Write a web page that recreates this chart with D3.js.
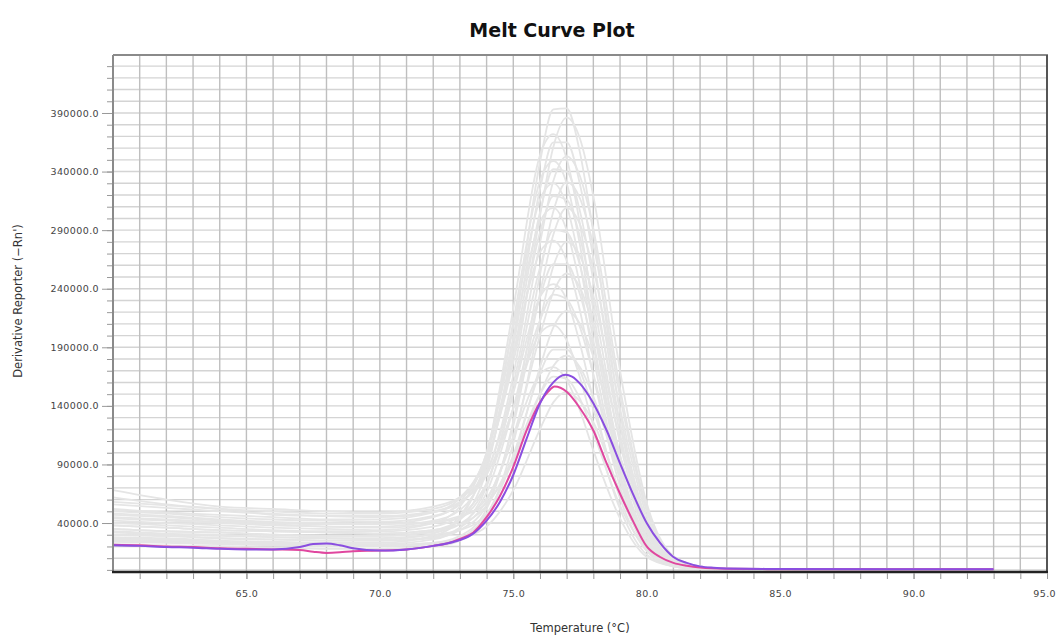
<!DOCTYPE html>
<html>
<head>
<meta charset="utf-8">
<script src="https://cdn.jsdelivr.net/npm/d3@7"></script>
<style>
  body { margin: 0; background: #fff; }
  svg { display: block; }
  .axis text { font-family: "DejaVu Sans", Verdana, sans-serif; font-size: 9.5px; fill: #444; letter-spacing: 0.4px; }
  .axis path { display: none; }
</style>
</head>
<body>
<svg id="chart" width="1057" height="637"></svg>
<script>
// x ticks / y ticks
var xLabelTicks = [65, 70, 75, 80, 85, 90, 95];
var yLabelTicks = [40000, 90000, 140000, 190000, 240000, 290000, 340000, 390000];

// temperature grid used by the grey (other wells) curves
var grayTemps = [60, 62, 64, 66, 68, 70, 72, 73, 74, 75, 76, 76.5, 77, 77.5, 78, 79, 80, 81, 82, 83, 86, 93];

// grey curves, derivative values in thousands, one row per well
var grayCurves = [
  [35,33,32,30,29,29,33,43,85,197,348,393,394,356,288,134,40,9,1.5,0.8,0.5,0.5],
  [62,56,52,47,46,45,49,58,83,166,302,361,386,368,319,170,57,12,3,1,0.6,0.5],
  [28,27,25,24,23,23,29,44,97,223,354,372,351,295,221,93,23,5,1,0.6,0.4,0.4],
  [45,43,41,39,37,37,42,51,89,190,325,365,365,329,266,124,38,8,1.5,0.8,0.5,0.4],
  [68,60,54,52,50,49,54,62,84,158,279,332,353,336,291,155,53,11,3,1,0.6,0.5],
  [32,30,29,28,27,26,31,46,95,212,332,349,330,277,208,88,22,4,1,0.6,0.4,0.3],
  [50,48,45,43,42,41,46,56,91,183,305,342,340,306,247,116,35,7,2,0.8,0.5,0.4],
  [25,24,23,22,21,21,23,29,52,127,252,306,331,317,277,148,50,11,2,0.7,0.4,0.4],
  [42,40,38,36,35,34,40,54,100,207,316,330,311,261,196,82,21,4,0.8,0.6,0.4,0.4],
  [58,55,52,50,48,48,52,62,94,177,288,319,316,284,229,108,32,7,2,0.8,0.5,0.4],
  [30,29,27,26,25,25,27,34,55,123,236,286,309,295,257,138,46,10,1.5,0.7,0.4,0.3],
  [48,46,43,41,40,39,45,58,100,198,297,309,290,243,182,77,20,4,0.8,0.6,0.4,0.4],
  [38,36,34,33,32,31,34,43,73,152,258,290,288,260,210,98,29,6,1.3,0.7,0.4,0.4],
  [22,21,20,19,18,18,20,25,44,108,212,259,280,268,234,125,42,8,1.2,0.6,0.4,0.3],
  [52,49,47,45,43,43,49,61,98,184,271,281,264,221,166,71,18,4,1.2,0.6,0.4,0.4],
  [35,33,32,30,29,29,32,39,66,138,233,261,261,235,190,88,27,6,1.2,0.6,0.4,0.3],
  [44,42,40,38,37,36,40,45,61,114,200,237,253,241,208,111,38,8,1.3,0.6,0.4,0.4],
  [27,26,24,23,22,22,26,36,71,151,233,244,231,193,145,61,16,3,0.8,0.5,0.4,0.3],
  [56,53,50,48,46,46,50,58,81,138,213,235,231,207,167,78,24,5,1.5,0.7,0.5,0.4],
  [33,31,30,28,27,27,30,34,48,96,173,207,221,210,182,97,33,7,1,0.6,0.4,0.3],
  [40,38,36,34,33,33,37,46,74,138,202,209,196,164,123,52,13,3,0.8,0.5,0.4,0.3],
  [24,23,22,21,20,20,22,27,47,98,168,188,188,170,137,65,19,4,1,0.5,0.3,0.3],
  [47,45,42,40,39,39,41,46,57,93,150,174,183,173,148,79,27,6,1.2,0.6,0.4,0.4],
  [30,29,27,26,25,25,28,36,59,113,167,173,162,136,102,44,11,3,0.7,0.5,0.4,0.3],
  [38,36,34,33,32,31,34,39,55,96,150,165,163,146,117,55,17,4,0.8,0.5,0.4,0.3],
  [26,25,23,22,22,21,23,27,37,68,120,143,152,144,126,67,23,5,1,0.5,0.4,0.3]
];

// highlighted wells (thousands)
var pinkTemps = [60,61,62,63,64,65,66,67,67.5,68,68.5,69,70,71,72,72.5,73,73.5,74,74.5,75,75.5,76,76.3,76.55,77,77.5,78,78.5,79,79.5,80,80.5,81,81.5,82,83,85,90,93];
var pinkVals  = [21.5,21,20,19.5,18.5,18,17.5,17,15.5,14.5,15,16,16.5,17.5,20.5,22.5,26.5,32,45,63,88,119,143,152,156.5,152,138,119,91,65,41,20,11,6,3.5,2,1,0.6,0.5,0.5];

var purpleTemps = [60,61,62,63,64,65,66,67,67.5,68,68.5,69,70,71,72,72.5,73,73.5,74,74.5,75,75.5,76,76.5,76.95,77.2,77.5,77.85,78.5,79,79.5,80,80.5,81,81.5,82,82.5,83,85,90,93];
var purpleVals  = [21,20.5,19.5,19,18,17.5,17.5,19.5,22,22.5,21,18.5,16.5,17.5,20.5,22.5,25.5,31,42,58,81,112,142,160,166.5,165,159,148,119,91,64,40,23,11,6,3,1.8,1.2,0.8,0.6,0.6];

var svg = d3.select("#chart");
var x = d3.scaleLinear().domain([60, 95]).range([113, 1047]);
var y = d3.scaleLinear().domain([-1800, 439500]).range([572, 55]);

var xMinor = d3.range(61, 95, 1);
var yMinor = d3.range(0, 440000, 10000);

// grid
svg.append("g").selectAll("line").data(yMinor).join("line")
  .attr("x1", 113).attr("x2", 1047)
  .attr("y1", function (d) { return y(d); }).attr("y2", function (d) { return y(d); })
  .attr("stroke", "#d4d4d4").attr("stroke-width", 1.4);
svg.append("g").selectAll("line").data(xMinor).join("line")
  .attr("y1", 55).attr("y2", 572)
  .attr("x1", function (d) { return x(d); }).attr("x2", function (d) { return x(d); })
  .attr("stroke", "#bfbfbf").attr("stroke-width", 1.4);

var line = d3.line().curve(d3.curveMonotoneX)
  .x(function (d) { return x(d[0]); })
  .y(function (d) { return y(d[1] * 1000); });

// grey curves
svg.append("g").selectAll("path").data(grayCurves).join("path")
  .attr("d", function (vals) { return line(grayTemps.map(function (t, i) { return [t, vals[i]]; })); })
  .attr("fill", "none").attr("stroke", "#e5e5e5").attr("stroke-width", 1.8);

// highlighted curves
svg.append("path")
  .attr("d", line(pinkTemps.map(function (t, i) { return [t, pinkVals[i]]; })))
  .attr("fill", "none").attr("stroke", "#e0479f").attr("stroke-width", 2);
svg.append("path")
  .attr("d", line(purpleTemps.map(function (t, i) { return [t, purpleVals[i]]; })))
  .attr("fill", "none").attr("stroke", "#8a4ee0").attr("stroke-width", 2);

// frame
svg.append("line").attr("x1", 113).attr("x2", 1048).attr("y1", 55).attr("y2", 55).attr("stroke", "#8a8a8a").attr("stroke-width", 2);
svg.append("line").attr("x1", 113).attr("x2", 113).attr("y1", 55).attr("y2", 573).attr("stroke", "#8a8a8a").attr("stroke-width", 2);
svg.append("line").attr("x1", 1047).attr("x2", 1047).attr("y1", 55).attr("y2", 573).attr("stroke", "#555").attr("stroke-width", 2);
svg.append("line").attr("x1", 112).attr("x2", 1048).attr("y1", 572).attr("y2", 572).attr("stroke", "#222").attr("stroke-width", 2.5);

// axes
svg.append("g").attr("class", "axis").attr("transform", "translate(112,0)")
  .call(d3.axisLeft(y).tickValues(yMinor).tickSize(5).tickFormat(""));
svg.append("g").attr("class", "axis").attr("transform", "translate(112,0)")
  .call(d3.axisLeft(y).tickValues(yLabelTicks).tickSize(10).tickPadding(3).tickFormat(d3.format(".1f")));
svg.append("g").attr("class", "axis").attr("transform", "translate(0,573)")
  .call(d3.axisBottom(x).tickValues(xMinor).tickSize(6).tickFormat(""));
var xAxis = svg.append("g").attr("class", "axis").attr("transform", "translate(0,573)")
  .call(d3.axisBottom(x).tickValues(xLabelTicks).tickSize(6).tickPadding(11).tickFormat(d3.format(".1f")));
svg.selectAll(".axis line").attr("stroke", "#999");
// last label sits against the window edge
xAxis.selectAll(".tick text").filter(function (d) { return d === 95; })
  .attr("text-anchor", "end").attr("dx", "0.9em");

// titles
svg.append("text").attr("x", 552).attr("y", 37).attr("text-anchor", "middle")
  .style("font-family", "'DejaVu Sans', Verdana, sans-serif").style("font-weight", "bold").style("font-size", "19px")
  .attr("fill", "#111").text("Melt Curve Plot");
svg.append("text").attr("x", 580).attr("y", 632).attr("text-anchor", "middle")
  .style("font-family", "'DejaVu Sans', Verdana, sans-serif").style("font-size", "11.5px")
  .attr("fill", "#333").text("Temperature (°C)");
svg.append("text").attr("transform", "translate(22,301) rotate(-90)").attr("text-anchor", "middle")
  .style("font-family", "'DejaVu Sans', Verdana, sans-serif").style("font-size", "11.5px")
  .attr("fill", "#333").text("Derivative Reporter (−Rn')");
</script>
</body>
</html>
